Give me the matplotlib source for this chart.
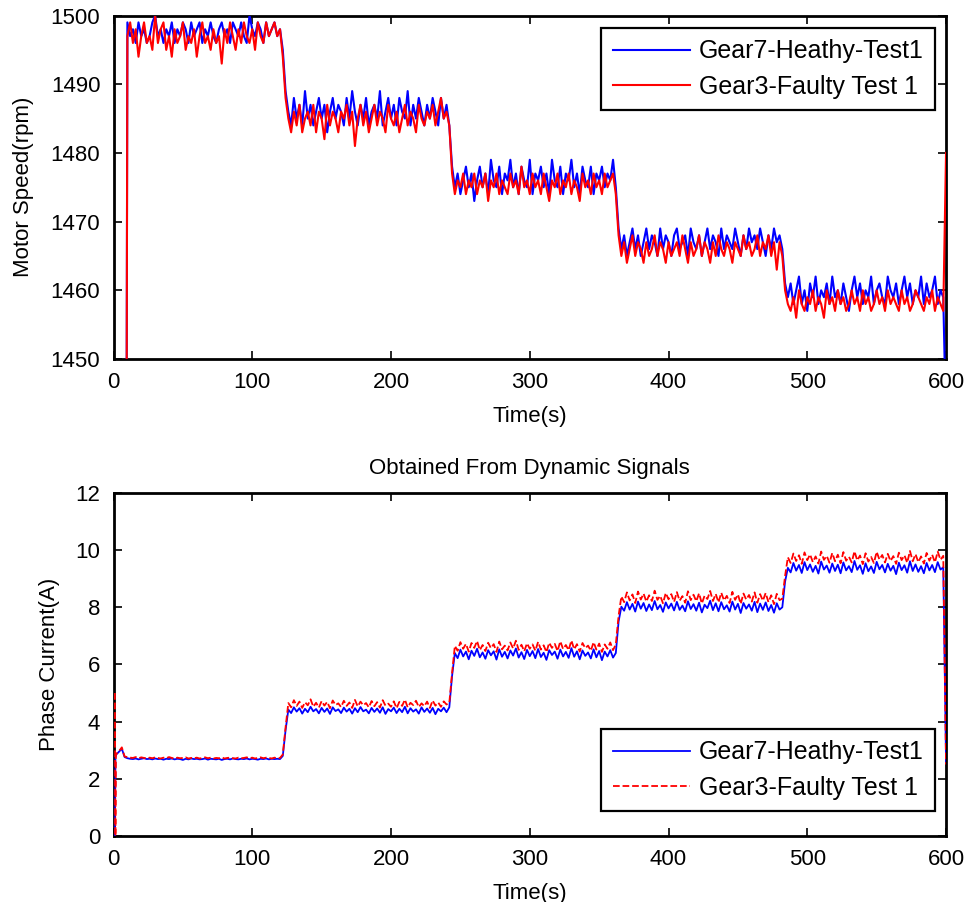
import numpy as np
import matplotlib
matplotlib.use("Agg")
import matplotlib.pyplot as plt

# time grid (s): a few early samples, then one every 2 s
t_head = [1.0, 1.4, 1.7]
t = np.concatenate([t_head, np.arange(2, 601, 2)])

# ---- motor speed (rpm), chunks: pre, step1, trans, step2, trans, step3, trans, step4, trans, step5, end
spd_h_pre = [1300, 1300, 1300, 1300, 1300, 1300]
spd_h_1 = [1300, 1499, 1497, 1498, 1496, 1499, 1497, 1498, 1496, 1497,
           1499, 1500, 1497, 1498, 1496, 1498, 1497, 1499, 1496, 1498,
           1497, 1499, 1498, 1496, 1499, 1497, 1498, 1499, 1496, 1498,
           1497, 1499, 1497, 1496, 1498, 1499, 1497, 1498, 1496, 1499,
           1498, 1497, 1499, 1497, 1496, 1500, 1498, 1497, 1499, 1498,
           1496, 1499, 1497, 1498, 1499, 1497, 1498]
spd_h_t1 = [1495, 1489]
spd_h_2 = [1486, 1484, 1488, 1485, 1487, 1484, 1489, 1485, 1487, 1484,
           1486, 1488, 1485, 1487, 1483, 1486, 1488, 1485, 1487, 1486,
           1484, 1488, 1485, 1489, 1486, 1484, 1487, 1485, 1488, 1484,
           1486, 1487, 1485, 1489, 1484, 1486, 1488, 1485, 1487, 1484,
           1488, 1486, 1485, 1489, 1484, 1487, 1485, 1488, 1486, 1484,
           1487, 1485, 1488, 1486, 1484, 1488, 1485, 1487]
spd_h_t2 = [1484, 1478]
spd_h_3 = [1475, 1477, 1474, 1476, 1478, 1475, 1477, 1473, 1476, 1478,
           1475, 1477, 1474, 1479, 1476, 1475, 1478, 1474, 1477, 1476,
           1479, 1475, 1477, 1474, 1478, 1476, 1475, 1479, 1474, 1477,
           1476, 1478, 1475, 1477, 1474, 1479, 1476, 1475, 1478, 1474,
           1477, 1476, 1479, 1475, 1477, 1474, 1478, 1476, 1475, 1478,
           1474, 1477, 1476, 1478, 1475, 1477, 1476, 1479]
spd_h_t3 = [1475, 1469]
spd_h_4 = [1466, 1468, 1465, 1467, 1469, 1466, 1468, 1465, 1467, 1469,
           1466, 1468, 1467, 1465, 1469, 1466, 1468, 1467, 1465, 1468,
           1469, 1466, 1467, 1468, 1465, 1469, 1467, 1466, 1468, 1465,
           1467, 1469, 1466, 1468, 1467, 1465, 1469, 1466, 1468, 1467,
           1466, 1469, 1467, 1465, 1468, 1466, 1469, 1467, 1468, 1466,
           1469, 1467, 1465, 1468, 1466, 1469, 1467, 1468]
spd_h_t4 = [1466, 1461]
spd_h_5 = [1459, 1461, 1458, 1460, 1462, 1458, 1460, 1457, 1461, 1459,
           1462, 1458, 1460, 1459, 1461, 1458, 1462, 1459, 1460, 1458,
           1461, 1459, 1457, 1460, 1462, 1459, 1461, 1458, 1460, 1459,
           1462, 1458, 1460, 1461, 1459, 1458, 1462, 1460, 1459, 1461,
           1458, 1460, 1462, 1459, 1461, 1458, 1460, 1459, 1462, 1458,
           1461, 1459, 1460, 1462, 1458, 1460, 1459]
spd_h_end = [1440]

spd_f_pre = [1300, 1300, 1300, 1300, 1300, 1300]
spd_f_1 = [1300, 1497, 1499, 1496, 1498, 1494, 1497, 1499, 1496, 1497,
           1495, 1500, 1496, 1498, 1499, 1495, 1497, 1494, 1498, 1496,
           1497, 1499, 1495, 1497, 1496, 1498, 1494, 1497, 1499, 1496,
           1497, 1495, 1498, 1496, 1497, 1493, 1498, 1496, 1499, 1497,
           1495, 1498, 1496, 1499, 1497, 1496, 1498, 1495, 1499, 1497,
           1496, 1499, 1497, 1498, 1499, 1497, 1498]
spd_f_t1 = [1494, 1488]
spd_f_2 = [1485, 1483, 1486, 1484, 1487, 1483, 1485, 1486, 1484, 1487,
           1483, 1486, 1485, 1482, 1487, 1484, 1486, 1485, 1483, 1486,
           1485, 1487, 1484, 1486, 1481, 1485, 1487, 1484, 1486, 1483,
           1485, 1487, 1484, 1486, 1485, 1483, 1487, 1485, 1484, 1486,
           1483, 1485, 1487, 1484, 1486, 1485, 1483, 1487, 1485, 1484,
           1486, 1485, 1487, 1484, 1486, 1488, 1485, 1486]
spd_f_t2 = [1484, 1477]
spd_f_3 = [1474, 1476, 1475, 1477, 1474, 1476, 1475, 1477, 1474, 1476,
           1475, 1477, 1473, 1476, 1475, 1477, 1474, 1476, 1475, 1474,
           1477, 1475, 1476, 1474, 1478, 1475, 1476, 1474, 1477, 1475,
           1476, 1474, 1477, 1475, 1473, 1476, 1475, 1477, 1474, 1476,
           1475, 1477, 1474, 1476, 1475, 1473, 1477, 1475, 1476, 1474,
           1477, 1475, 1476, 1474, 1477, 1475, 1476, 1477]
spd_f_t3 = [1474, 1468]
spd_f_4 = [1465, 1467, 1464, 1466, 1468, 1465, 1467, 1466, 1464, 1467,
           1465, 1466, 1468, 1465, 1467, 1466, 1464, 1467, 1465, 1466,
           1467, 1465, 1468, 1466, 1464, 1467, 1465, 1466, 1468, 1465,
           1467, 1466, 1464, 1467, 1465, 1468, 1466, 1465, 1467, 1466,
           1464, 1467, 1466, 1465, 1468, 1466, 1467, 1465, 1466, 1468,
           1465, 1467, 1466, 1468, 1465, 1467, 1463, 1467]
spd_f_t4 = [1465, 1460]
spd_f_5 = [1458, 1457, 1459, 1456, 1460, 1458, 1457, 1459, 1458, 1460,
           1457, 1459, 1458, 1456, 1460, 1458, 1459, 1457, 1460, 1458,
           1459, 1457, 1458, 1460, 1458, 1459, 1457, 1460, 1458, 1459,
           1457, 1458, 1460, 1458, 1459, 1457, 1460, 1458, 1459, 1458,
           1457, 1460, 1458, 1459, 1457, 1458, 1460, 1459, 1458, 1457,
           1459, 1458, 1460, 1457, 1459, 1458, 1457]
spd_f_end = [1480]

# ---- phase current (A)
cur_h_pre = [0.0, 2.75, 2.8, 2.85, 2.95, 3.05]
cur_h_1 = [2.76, 2.72, 2.70, 2.69, 2.71, 2.68, 2.70, 2.72, 2.69, 2.70,
           2.68, 2.71, 2.69, 2.70, 2.67, 2.70, 2.69, 2.71, 2.68, 2.70,
           2.69, 2.66, 2.70, 2.68, 2.71, 2.69, 2.70, 2.68, 2.69, 2.71,
           2.67, 2.70, 2.69, 2.68, 2.70, 2.66, 2.69, 2.70, 2.68, 2.71,
           2.69, 2.68, 2.70, 2.69, 2.71, 2.68, 2.70, 2.69, 2.67, 2.70,
           2.69, 2.71, 2.68, 2.70, 2.69, 2.70, 2.69]
cur_h_t1 = [2.8, 3.7]
cur_h_2 = [4.42, 4.30, 4.50, 4.35, 4.47, 4.28, 4.45, 4.33, 4.52, 4.36,
           4.44, 4.29, 4.48, 4.34, 4.46, 4.27, 4.50, 4.37, 4.43, 4.30,
           4.49, 4.35, 4.45, 4.28, 4.47, 4.33, 4.51, 4.36, 4.42, 4.29,
           4.48, 4.34, 4.46, 4.31, 4.50, 4.27, 4.44, 4.36, 4.49, 4.30,
           4.45, 4.33, 4.52, 4.29, 4.47, 4.35, 4.43, 4.28, 4.50, 4.34,
           4.46, 4.31, 4.48, 4.26, 4.45, 4.36, 4.49, 4.33]
cur_h_t2 = [4.5, 5.6]
cur_h_3 = [6.40, 6.22, 6.52, 6.28, 6.45, 6.18, 6.48, 6.30, 6.55, 6.25,
           6.42, 6.20, 6.50, 6.32, 6.46, 6.17, 6.53, 6.27, 6.44, 6.21,
           6.49, 6.31, 6.56, 6.24, 6.43, 6.19, 6.51, 6.29, 6.47, 6.22,
           6.54, 6.26, 6.41, 6.16, 6.50, 6.33, 6.45, 6.20, 6.52, 6.28,
           6.44, 6.23, 6.57, 6.27, 6.46, 6.18, 6.49, 6.30, 6.42, 6.21,
           6.53, 6.25, 6.47, 6.15, 6.45, 6.28, 6.50, 6.24]
cur_h_t3 = [6.4, 7.5]
cur_h_4 = [8.02, 7.88, 8.18, 7.92, 8.12, 7.85, 8.20, 7.95, 8.15, 7.87,
           8.10, 7.90, 8.22, 7.93, 8.08, 7.84, 8.17, 7.96, 8.13, 7.89,
           8.19, 7.91, 8.06, 7.86, 8.21, 7.94, 8.11, 7.88, 8.16, 7.82,
           8.09, 7.97, 8.23, 7.90, 8.14, 7.86, 8.18, 7.93, 8.07, 7.85,
           8.20, 7.92, 8.12, 7.80, 8.15, 7.95, 8.10, 7.88, 8.19, 7.83,
           8.13, 7.91, 8.17, 7.87, 8.08, 7.81, 8.14, 7.92]
cur_h_t4 = [8.0, 8.9]
cur_h_5 = [9.38, 9.22, 9.55, 9.28, 9.48, 9.20, 9.58, 9.30, 9.50, 9.24,
           9.45, 9.18, 9.60, 9.32, 9.46, 9.21, 9.53, 9.27, 9.49, 9.19,
           9.57, 9.29, 9.44, 9.23, 9.62, 9.31, 9.47, 9.17, 9.54, 9.26,
           9.43, 9.20, 9.59, 9.33, 9.48, 9.22, 9.52, 9.28, 9.45, 9.16,
           9.56, 9.30, 9.47, 9.21, 9.61, 9.27, 9.50, 9.24, 9.44, 9.19,
           9.55, 9.29, 9.48, 9.23, 9.58, 9.32, 9.40]
cur_h_end = [2.6]

cur_f_pre = [5.0, 0.0, 2.8, 2.87, 2.97, 3.1]
cur_f_1 = [2.78, 2.76, 2.74, 2.73, 2.76, 2.72, 2.75, 2.73, 2.71, 2.74,
           2.72, 2.75, 2.73, 2.71, 2.74, 2.72, 2.76, 2.73, 2.71, 2.74,
           2.72, 2.73, 2.75, 2.71, 2.73, 2.72, 2.74, 2.71, 2.73, 2.75,
           2.72, 2.74, 2.71, 2.73, 2.72, 2.75, 2.71, 2.73, 2.74, 2.72,
           2.71, 2.74, 2.72, 2.73, 2.75, 2.72, 2.74, 2.71, 2.73, 2.75,
           2.72, 2.74, 2.73, 2.71, 2.74, 2.72, 2.73]
cur_f_t1 = [2.85, 3.8]
cur_f_2 = [4.65, 4.50, 4.75, 4.55, 4.70, 4.48, 4.68, 4.57, 4.78, 4.52,
           4.66, 4.49, 4.72, 4.56, 4.69, 4.47, 4.74, 4.58, 4.64, 4.51,
           4.73, 4.55, 4.67, 4.48, 4.76, 4.53, 4.70, 4.57, 4.65, 4.50,
           4.72, 4.54, 4.68, 4.49, 4.75, 4.56, 4.63, 4.52, 4.71, 4.47,
           4.69, 4.55, 4.77, 4.50, 4.66, 4.58, 4.73, 4.51, 4.64, 4.54,
           4.70, 4.48, 4.74, 4.56, 4.67, 4.52, 4.71, 4.60]
cur_f_t2 = [4.65, 5.7]
cur_f_3 = [6.65, 6.48, 6.78, 6.55, 6.72, 6.45, 6.75, 6.58, 6.82, 6.50,
           6.68, 6.47, 6.76, 6.57, 6.71, 6.44, 6.80, 6.53, 6.66, 6.49,
           6.77, 6.56, 6.83, 6.51, 6.69, 6.46, 6.74, 6.55, 6.70, 6.48,
           6.79, 6.52, 6.67, 6.43, 6.76, 6.58, 6.72, 6.47, 6.81, 6.54,
           6.68, 6.50, 6.84, 6.53, 6.71, 6.45, 6.75, 6.57, 6.66, 6.48,
           6.78, 6.52, 6.73, 6.44, 6.70, 6.55, 6.77, 6.50]
cur_f_t3 = [6.7, 7.7]
cur_f_4 = [8.38, 8.18, 8.52, 8.24, 8.45, 8.15, 8.55, 8.27, 8.48, 8.20,
           8.42, 8.22, 8.58, 8.26, 8.40, 8.14, 8.50, 8.28, 8.46, 8.19,
           8.53, 8.23, 8.39, 8.16, 8.56, 8.25, 8.44, 8.21, 8.49, 8.13,
           8.41, 8.29, 8.57, 8.22, 8.47, 8.17, 8.51, 8.24, 8.40, 8.15,
           8.54, 8.26, 8.45, 8.12, 8.48, 8.27, 8.43, 8.20, 8.52, 8.16,
           8.46, 8.23, 8.50, 8.18, 8.42, 8.11, 8.47, 8.25]
cur_f_t4 = [8.3, 9.1]
cur_f_5 = [9.75, 9.55, 9.88, 9.62, 9.82, 9.52, 9.92, 9.65, 9.85, 9.58,
           9.78, 9.53, 9.95, 9.66, 9.80, 9.56, 9.90, 9.61, 9.84, 9.54,
           9.93, 9.63, 9.77, 9.57, 9.96, 9.64, 9.81, 9.51, 9.89, 9.60,
           9.76, 9.55, 9.94, 9.67, 9.83, 9.57, 9.87, 9.62, 9.79, 9.52,
           9.91, 9.65, 9.82, 9.56, 9.97, 9.61, 9.86, 9.58, 9.78, 9.53,
           9.90, 9.63, 9.84, 9.57, 9.95, 9.66, 9.80]
cur_f_end = [2.5]

spd_healthy = np.concatenate([spd_h_pre, spd_h_1, spd_h_t1, spd_h_2, spd_h_t2, spd_h_3,
                              spd_h_t3, spd_h_4, spd_h_t4, spd_h_5, spd_h_end])
spd_faulty = np.concatenate([spd_f_pre, spd_f_1, spd_f_t1, spd_f_2, spd_f_t2, spd_f_3,
                             spd_f_t3, spd_f_4, spd_f_t4, spd_f_5, spd_f_end])
cur_healthy = np.concatenate([cur_h_pre, cur_h_1, cur_h_t1, cur_h_2, cur_h_t2, cur_h_3,
                              cur_h_t3, cur_h_4, cur_h_t4, cur_h_5, cur_h_end])
cur_faulty = np.concatenate([cur_f_pre, cur_f_1, cur_f_t1, cur_f_2, cur_f_t2, cur_f_3,
                             cur_f_t3, cur_f_4, cur_f_t4, cur_f_5, cur_f_end])

lbl_healthy = 'Gear7-Heathy-Test1'
lbl_faulty = 'Gear3-Faulty Test 1'

plt.rcParams['font.family'] = ['Liberation Sans', 'DejaVu Sans']
plt.rcParams['font.size'] = 16


def style_axes(ax):
    for s in ax.spines.values():
        s.set_linewidth(2.0)
    ax.tick_params(direction='in', length=6, width=1.2, top=True, right=True,
                   labelsize=16, pad=9.5)


def add_legend(ax, loc, anchor):
    leg = ax.legend(loc=loc, bbox_to_anchor=anchor, borderaxespad=0,
                    fancybox=False, edgecolor='black', fontsize=18,
                    handlelength=3.1, handletextpad=0.35, borderpad=0.45,
                    labelspacing=0.45)
    leg.get_frame().set_linewidth(1.6)
    leg.get_frame().set_alpha(None)
    return leg


fig = plt.figure(figsize=(9.71, 9.02), dpi=100)

# top: motor speed
ax1 = fig.add_axes([0.1169, 0.602, 0.8574, 0.3808])
ax1.plot(t, spd_healthy, color='#0000ff', lw=1.5, label=lbl_healthy, zorder=3)
ax1.plot(t, spd_faulty, color='#ff0000', lw=1.5, label=lbl_faulty, zorder=3)
ax1.set_xlim(0, 600)
ax1.set_ylim(1450, 1500)
ax1.set_xticks(np.arange(0, 601, 100))
ax1.set_yticks(np.arange(1450, 1501, 10))
ax1.set_xlabel('Time(s)', fontsize=16, labelpad=9)
ax1.set_ylabel('Motor Speed(rpm)', fontsize=16, labelpad=12)
style_axes(ax1)
add_legend(ax1, 'upper right', (1 - 11 / 832, 1 - 12.5 / 343))

# bottom: phase current
ax2 = fig.add_axes([0.1169, 0.0732, 0.8574, 0.3803])
ax2.plot(t, cur_healthy, color='#0000ff', lw=1.3, label=lbl_healthy, zorder=3)
ax2.plot(t, cur_faulty, color='#ff0000', lw=1.3, ls='--', label=lbl_faulty, zorder=3)
ax2.set_xlim(0, 600)
ax2.set_ylim(0, 12)
ax2.set_xticks(np.arange(0, 601, 100))
ax2.set_yticks(np.arange(0, 13, 2))
ax2.set_xlabel('Time(s)', fontsize=16, labelpad=9)
ax2.set_ylabel('Phase Current(A)', fontsize=16, labelpad=11)
ax2.set_title('Obtained From Dynamic Signals', fontsize=16, pad=13.5)
style_axes(ax2)
add_legend(ax2, 'lower right', (1 - 11 / 832, 25 / 343))

fig.savefig('out.png', dpi=100)
